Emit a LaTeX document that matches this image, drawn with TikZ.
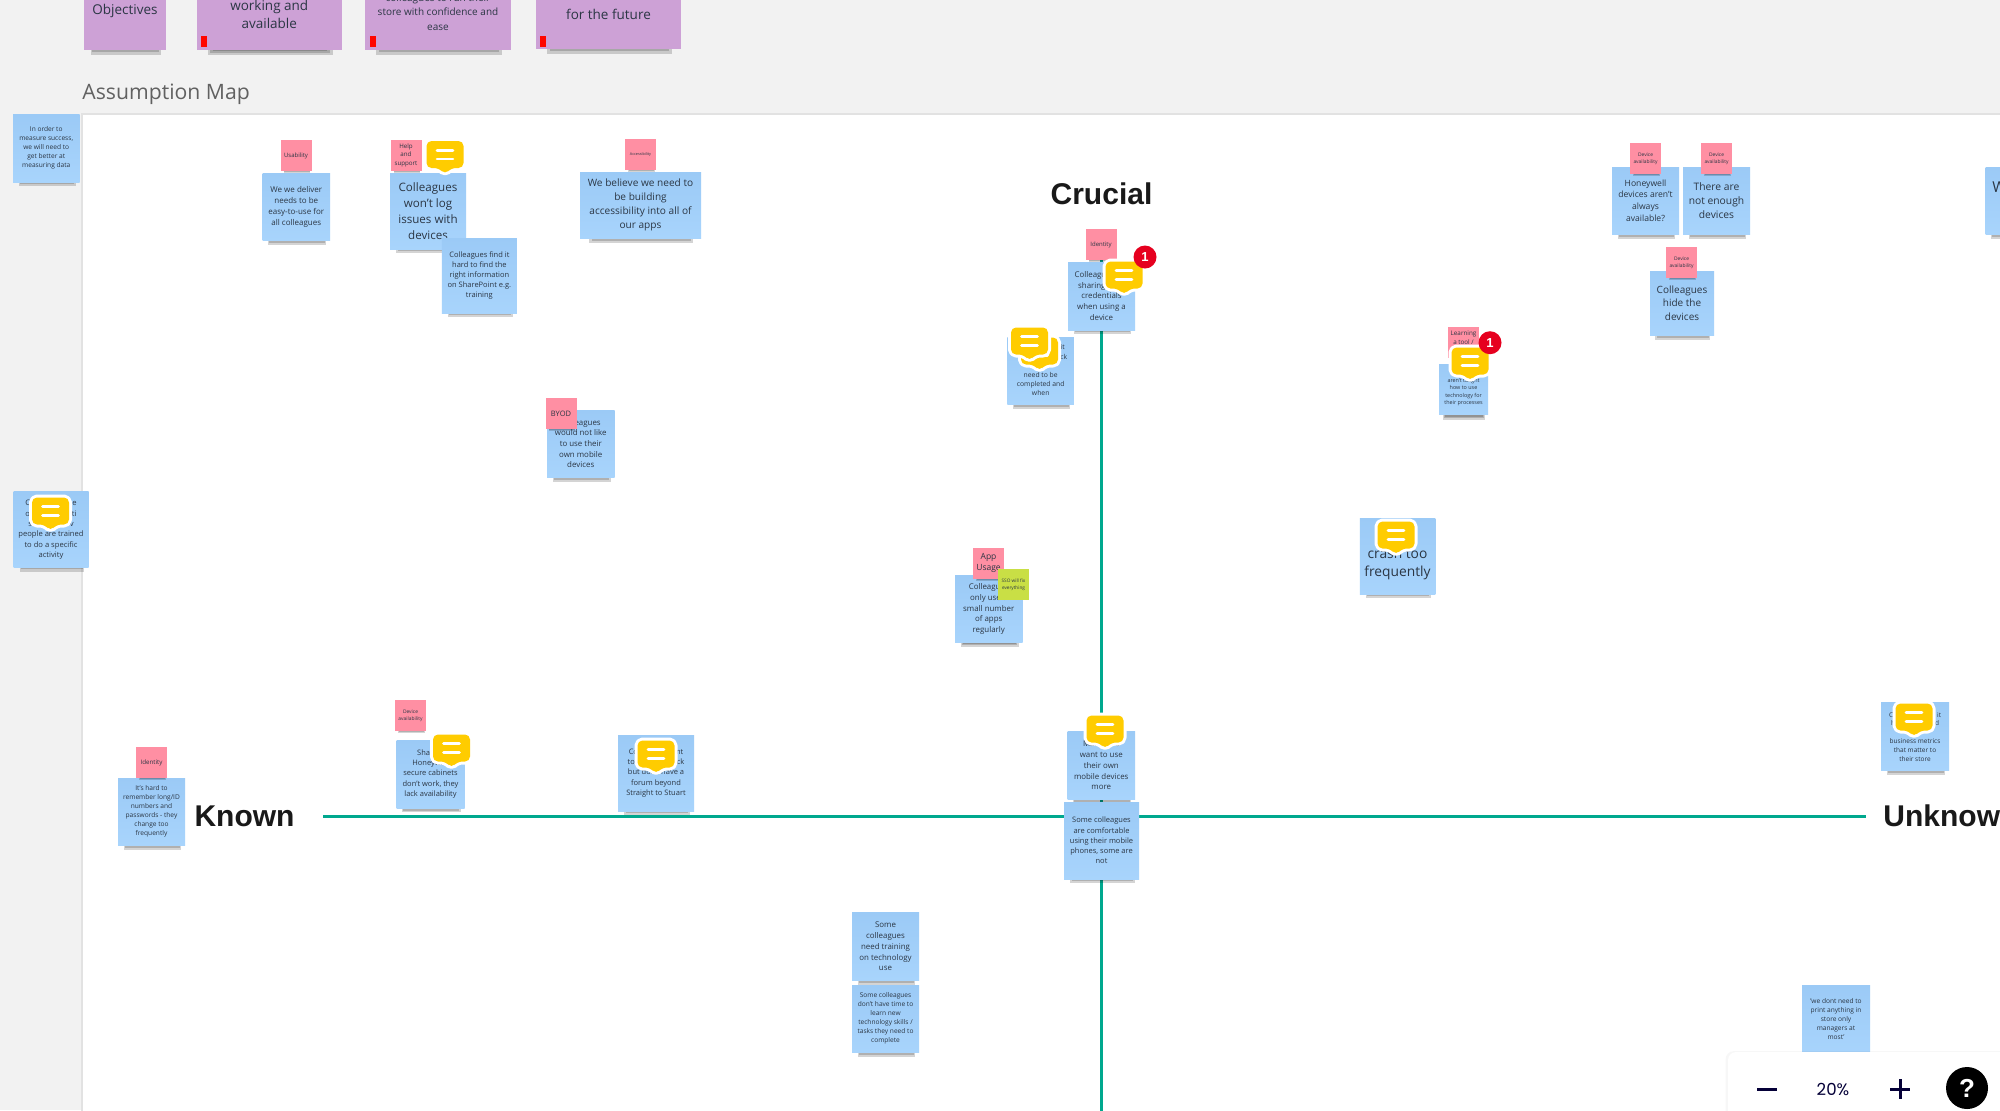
\documentclass[tikz,border=0pt]{standalone}
\usepackage{fontspec}
\setmainfont{Open Sans}
\newfontfamily\headfont{Liberation Sans}
\newfontfamily\zoomfont{Poppins}
\usetikzlibrary{shadows}

\definecolor{canvasgray}{HTML}{F2F2F2}
\definecolor{boardedge}{HTML}{E2E2E2}
\definecolor{axisgreen}{HTML}{00A88E}
\definecolor{bluetop}{HTML}{9BCAF6}
\definecolor{bluebottom}{HTML}{A8D4FC}
\definecolor{pinkfill}{HTML}{FF8FA3}
\definecolor{purplefill}{HTML}{CDA1D6}
\definecolor{limefill}{HTML}{C9DF45}
\definecolor{commentyellow}{HTML}{FFCC00}
\definecolor{badgered}{HTML}{E6001F}
\definecolor{notetext}{HTML}{2B3644}
\definecolor{navy}{HTML}{050038}

\tikzset{
	softshadow/.style={
		general shadow={fill=black,opacity=.17,shadow scale=.86,shadow xshift=.5pt,shadow yshift=-#1pt-.1pt},
		general shadow={fill=black,opacity=.17,shadow scale=.82,shadow xshift=.5pt,shadow yshift=-#1pt},
		general shadow={fill=black,opacity=.17,shadow scale=.78,shadow xshift=.5pt,shadow yshift=-#1pt+.05pt},
		general shadow={fill=black,opacity=.17,shadow scale=.74,shadow xshift=.5pt,shadow yshift=-#1pt+.15pt}},
	sz/.style 2 args={minimum width=#1*.5pt,minimum height=#2*.5pt},
	fs/.style 2 args={font=\fontsize{#1}{#2}\selectfont},
	sticky/.style={inner sep=0pt,outer sep=0pt,align=center,text=notetext},
	bluenote/.style={sticky,softshadow=5.25,top color=bluetop,bottom color=bluebottom},
	pinknote/.style={sticky,softshadow=2.4,fill=pinkfill,sz={31}{31}},
	limenote/.style={sticky,fill=limefill,sz={31}{31}},
	purplenote/.style={sticky,softshadow=#1,fill=purplefill},
	redmark/.style={inner sep=0pt,fill=red!95!orange,sz={6}{11}},
	heading/.style={inner sep=0pt,text=black!90,font=\headfont\fontsize{15}{18}\selectfont\bfseries},
	axis/.style={axisgreen,line width=1.5pt},
	badge/.style={circle,inner sep=0pt,minimum size=11.5pt,fill=badgered,text=white,font=\headfont\fontsize{6.5}{7}\selectfont\bfseries},
	pics/comment/.style={code={
		\path[fill=commentyellow,preaction={draw=white,line width=3pt,line join=round},rounded corners=2.5pt]
			(-18.5,-13.5) -- (18.5,-13.5) -- (18.5,13.5) -- (6,13.5) -- (0,20) -- (-6,13.5) -- (-18.5,13.5) -- cycle;
		\draw[white,line width=1.3pt,line cap=round] (-8,-4.3) -- (8,-4.3);
		\draw[white,line width=1.3pt,line cap=round] (-8,4.3) -- (8,4.3);
	}},
}

\begin{document}
\begin{tikzpicture}[x=.5pt,y=-.5pt]
	\useasboundingbox (0,0) rectangle (2000,1110);
	\clip (0,0) rectangle (2000,1110);
	\fill[canvasgray] (0,0) rectangle (2000,1110);
	
	% Board
	\filldraw[fill=white,draw=boardedge,line width=1pt] (2020,113.5) -- (81.7,113.5) -- (81.7,1130) -- (2020,1130) -- cycle;
	\node[anchor=west,inner sep=0pt,text=black!62,font=\fontsize{10.6}{13}\selectfont] (maptitle) at (82,94) {Assumption Map};
	
	% Objectives row
	\node[purplenote=5.8,sz={82}{79},fs={6.75}{9}] (objectives) at (125,10.5) {Objectives};
	\node[purplenote=5.5,sz={145.5}{72},fs={6.75}{9}] (working) at (269.25,14) {working and\\available};
	\node[purplenote=5.65,sz={146}{76},fs={5}{7.35}] (confidence) at (438,12) {colleagues to run their\\store with confidence and\\ease};
	\node[purplenote=6.1,sz={145}{85},fs={6.75}{9}] (future) at (608.5,6.5) {\phantom{x}\\for the future};
	\node[redmark] (markb) at (204,41.5) {};
	\node[redmark] (markc) at (372.8,41.5) {};
	\node[redmark] (markd) at (543,41.5) {};
	
	% Axes and labels
	\node[heading] (crucial) at (1101.5,193.3) {Crucial};
	\node[heading] (known) at (244.5,816) {Known};
	\node[heading,anchor=west] (unknown) at (1883,816) {Unknown};
	\coordinate (axistop) at (1101,240);
	\coordinate (axisbottom) at (1101,1115);
	\coordinate (axisleft) at (323,816.7);
	\coordinate (axisright) at (1866,816.7);
	\draw[axis] (axistop) -- (axisbottom);
	\draw[axis] (axisleft) -- (axisright);
	
	% Notes, top left
	\node[bluenote,sz={66.5}{68},fs={3.3}{4.5}] (measuring) at (46.25,148) {In order to\\measure success,\\we will need to\\get better at\\measuring data};
	\node[bluenote,sz={67.4}{67.3},fs={4}{5.5}] (deliver) at (296.3,206.9) {We we deliver\\needs to be\\easy-to-use for\\all colleagues};
	\node[pinknote,fs={3}{4}] (usability) at (296,155.5) {Usability};
	\node[bluenote,sz={76}{76},fs={5.8}{7.9}] (wontlog) at (428,211) {Colleagues\\won't log\\issues with\\devices};
	\node[pinknote,fs={3.1}{4.25}] (helpsupport) at (406,155) {Help\\and\\support};
	\node[bluenote,sz={75}{75},fs={3.75}{5.1}] (findinfo) at (479.4,275.5) {Colleagues find it\\hard to find the\\right information\\on SharePoint e.g.\\training};
	\node[bluenote,sz={121}{66},fs={5.05}{7}] (believe) at (640.5,205) {We believe we need to\\be building\\accessibility into all of\\our apps};
	\node[pinknote,fs={1.9}{3}] (accessibility) at (640.5,154.5) {Accessibility};
	\node[bluenote,sz={67.5}{67},fs={3.95}{5.35}] (ownmobile) at (580.75,443.5) {Colleagues\\would not like\\to use their\\own mobile\\devices};
	\node[pinknote,fs={3.75}{5}] (byod) at (561,413.5) {BYOD};
	\node[bluenote,sz={75}{76},fs={3.8}{5.15}] (trained) at (51,529.7) {C\hspace*{21pt}e\\o\hspace*{21pt}ti\\s\hspace*{19pt}v\\people are trained\\to do a specific\\activity};
	
	% Notes, centre
	\node[bluenote,sz={67}{68},fs={3.95}{5.35}] (sharing) at (1101.5,296) {Colleagu\phantom{es are}\\sharing\phantom{ their}\\credentials\\when using a\\device};
	\node[pinknote,fs={3}{4}] (identitya) at (1101,244.5) {Identity};
	\node[bluenote,sz={66.5}{67},fs={3.4}{4.6}] (whentasks) at (1040.7,370.5) {\hspace*{22pt}it\\\hspace*{23pt}ck\\\phantom{x}\\need to be\\completed and\\when};
	\node[bluenote,sz={67.5}{67.7},fs={3.95}{5.4}] (fewapps) at (988.75,609) {Colleagues\\only use a\\small number\\of apps\\regularly};
	\node[pinknote,fs={4.25}{5.85}] (appusage) at (988.5,563) {App\\Usage};
	\node[limenote,fs={2.35}{3.5}] (sso) at (1013.5,584.5) {SSO will fix\\everything};
	\node[bluenote,sz={67.5}{67.5},fs={3.95}{5.4}] (wantown) at (1101.25,765.5) {Managers\\want to use\\their own\\mobile devices\\more};
	\node[bluenote,sz={75}{77},fs={3.75}{5.1}] (comfortable) at (1101.5,840.5) {Some colleagues\\are comfortable\\using their mobile\\phones, some are\\not};
	\node[bluenote,sz={67}{67.5},fs={3.95}{5.35}] (training) at (885.5,946.5) {Some\\colleagues\\need training\\on technology\\use};
	\node[bluenote,sz={67}{67},fs={3.3}{4.5}] (notime) at (885.5,1018.5) {Some colleagues\\don't have time to\\learn new\\technology skills /\\tasks they need to\\complete};
	
	% Notes, bottom left
	\node[bluenote,sz={67}{67},fs={3.3}{4.5}] (hardremember) at (151.5,811.5) {It's hard to\\remember long/ID\\numbers and\\passwords - they\\change too\\frequently};
	\node[pinknote,fs={3.1}{4}] (identityb) at (151.5,762.5) {Identity};
	\node[bluenote,sz={68}{68},fs={3.75}{5.1}] (cabinets) at (430.5,774) {Sharing\\Honeywell\\secure cabinets\\don't work, they\\lack availability};
	\node[pinknote,fs={2.45}{3.35}] (devicea) at (410.5,715.5) {Device\\availability};
	\node[bluenote,sz={76}{76},fs={3.75}{5.1}] (forum) at (656,773) {Co\hspace*{19pt}nt\\to\hspace*{21pt}ck\\but don't have a\\forum beyond\\Straight to Stuart};
	
	% Notes, right
	\node[bluenote,sz={49}{50},fs={2.7}{3.65}] (taught) at (1463.5,389) {\phantom{x}\\aren't taught\\how to use\\technology for\\their processes};
	\node[pinknote,fs={3.15}{4.25}] (learning) at (1463.5,342) {Learning\\a tool /\\\phantom{x}};
	\node[bluenote,sz={75.5}{76},fs={6.9}{9.35}] (crashes) at (1397.5,556) {\phantom{x}\\crash too\\frequently};
	\node[bluenote,sz={67}{67},fs={4.3}{5.9}] (honeywell) at (1645.5,200.5) {Honeywell\\devices aren't\\always\\available?};
	\node[pinknote,fs={2.45}{3.35}] (deviceb) at (1645.5,158.5) {Device\\availability};
	\node[bluenote,sz={67}{67},fs={5.15}{7}] (notenough) at (1716.5,200.5) {There are\\not enough\\devices};
	\node[pinknote,fs={2.45}{3.35}] (devicec) at (1716.5,158.5) {Device\\availability};
	\node[bluenote,sz={64}{64},fs={5}{6.8}] (hide) at (1682,303) {Colleagues\\hide the\\devices};
	\node[pinknote,fs={2.45}{3.35}] (deviced) at (1681.5,262.5) {Device\\availability};
	\node[bluenote,sz={67}{67}] (cutoff) at (2019,200.5) {};
	\node[anchor=west,inner sep=0pt,text=notetext,font=\fontsize{7.5}{9}\selectfont] (cutoffword) at (1992,187) {W};
	\node[bluenote,sz={68}{68},fs={3.25}{4.4}] (metrics) at (1915,736.7) {C\hspace*{22pt}it\\h\hspace*{20pt}d\\\phantom{x}\\business metrics\\that matter to\\their store};
	\node[bluenote,sz={68}{68},fs={3.3}{4.5}] (noprint) at (1836,1019) {'we dont need to\\print anything in\\store only\\managers at\\most'};
	
	% Comments
	\pic at (445,154.5) {comment};
	\pic at (1124,275) {comment};
	\pic at (1039.5,351) {comment};
	\pic at (1029.5,341) {comment};
	\pic at (1470,361) {comment};
	\pic at (50.5,511) {comment};
	\pic at (451.5,748) {comment};
	\pic at (656,754) {comment};
	\pic at (1396,535) {comment};
	\pic at (1105,729) {comment};
	\pic at (1914,717) {comment};
	\node[badge] (badgea) at (1145,257) {1};
	\node[badge] (badgeb) at (1490,342.7) {1};
	
	% Zoom panel
	\node[fill=white,rounded corners=4pt,inner sep=0pt,sz={320}{120},general shadow={fill=black,opacity=.03,shadow scale=1.015}] (zoompanel) at (1888,1112) {};
	\node[inner sep=0pt,text=navy,font=\zoomfont\fontsize{8.3}{10}\selectfont] (zoomlevel) at (1833,1089) {20\%};
	\draw[navy,line width=1.5pt] (1757,1089) -- (1777,1089);
	\draw[navy,line width=1.5pt] (1890,1089) -- (1910,1089);
	\draw[navy,line width=1.5pt] (1900,1079) -- (1900,1099);
	\node[circle,fill=black,inner sep=0pt,minimum size=21pt,text=white,font=\headfont\fontsize{13}{14}\selectfont\bfseries] (help) at (1967,1088) {?};
\end{tikzpicture}
\end{document}
